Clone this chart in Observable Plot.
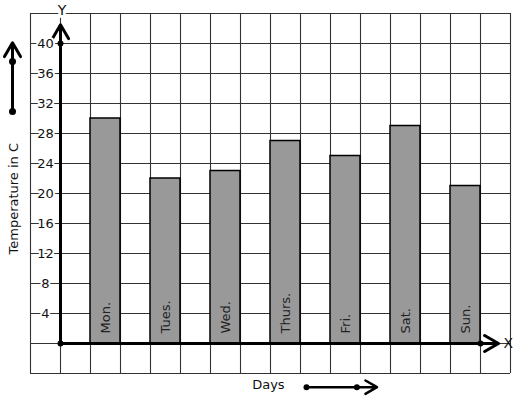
<!DOCTYPE html>
<html><head><meta charset="utf-8">
<script src="https://cdn.jsdelivr.net/npm/d3@7"></script>
<script src="https://cdn.jsdelivr.net/npm/@observablehq/plot@0.6"></script>
<style>body{margin:0;background:#fff}</style>
</head><body><div id="chart"></div>
<script>
const days = ["Mon.", "Tues.", "Wed.", "Thurs.", "Fri.", "Sat.", "Sun."];
const temps = [30, 22, 23, 27, 25, 29, 21];
const yTicks = [4, 8, 12, 16, 20, 24, 28, 32, 36, 40];
const gridX = d3.range(-1, 16, 1);
const gridY = d3.range(-4, 45, 4);

const bars = days.map((d, i) => ({day: d, temp: temps[i], x1: 1 + 2 * i, x2: 2 + 2 * i}));

const ink = "#111";
const chart = Plot.plot({
  width: 517, height: 399, margin: 0,
  style: {fontFamily: "DejaVu Sans", background: "white", overflow: "visible"},
  x: {domain: [-1, 15], range: [30, 510], axis: null},
  y: {domain: [-4, 44], range: [373, 13], axis: null},
  marks: [
    Plot.ruleX(gridX, {x: d => d, y1: -4, y2: 44, stroke: "#333", strokeWidth: 1.1}),
    Plot.ruleY(gridY, {y: d => d, x1: -1, x2: 15, stroke: "#333", strokeWidth: 1.1}),
    Plot.rectY(bars, {x1: "x1", x2: "x2", y1: 0, y2: "temp", fill: "#999999", stroke: "#000", strokeWidth: 1.5}),
    // axes
    Plot.arrow([0], {x1: 0, y1: 0, x2: 0, y2: 42.5, stroke: "#000", strokeWidth: 3, headLength: 8, headAngle: 60}),
    Plot.arrow([0], {x1: 0, y1: 0, x2: 14.6, y2: 0, stroke: "#000", strokeWidth: 3, headLength: 8, headAngle: 60}),
    Plot.dot([[0, 0], [0, 40], [14, 0]], {x: d => d[0], y: d => d[1], r: 3, fill: "#000"}),
    Plot.text(["Y"], {x: 0.05, y: 44.4, text: d => d, fontSize: 14, fill: ink, stroke: "white", strokeWidth: 6}),
    Plot.text(["X"], {x: 14.93, y: 0, text: d => d, fontSize: 14, fill: ink}),
    // tick labels
    Plot.text(yTicks, {x: -0.5, y: d => d, text: d => String(d), fontSize: 13, fill: ink, stroke: "white", strokeWidth: 4}),
    // bar labels
    Plot.text(bars, {x: d => (d.x1 + d.x2) / 2, y: 0, dy: -10, text: "day", rotate: -90, textAnchor: "start", fontSize: 13, fill: "#222"}),
    // y title + arrow
    Plot.text(["Temperature in C"], {x: -1.55, y: 19.3, text: d => d, rotate: -90, fontSize: 13, fill: ink}),
    Plot.arrow([0], {x1: -1.6, y1: 30.93, x2: -1.6, y2: 40.1, stroke: "#000", strokeWidth: 3, headLength: 8, headAngle: 60}),
    Plot.dot([37.6, 30.93], {x: -1.6, y: d => d, r: 3.5, fill: "#000"}),
    // x title + arrow
    Plot.text(["Days"], {x: 6.93, y: -5.5, text: d => d, fontSize: 13, fill: ink}),
    Plot.arrow([0], {x1: 8.2, y1: -5.82, x2: 10.55, y2: -5.82, stroke: "#000", strokeWidth: 2.5, headLength: 8, headAngle: 60}),
    Plot.dot([8.2, 9.88], {x: d => d, y: -5.82, r: 3, fill: "#000"})
  ]
});
document.getElementById("chart").append(chart);
</script>
</body></html>
